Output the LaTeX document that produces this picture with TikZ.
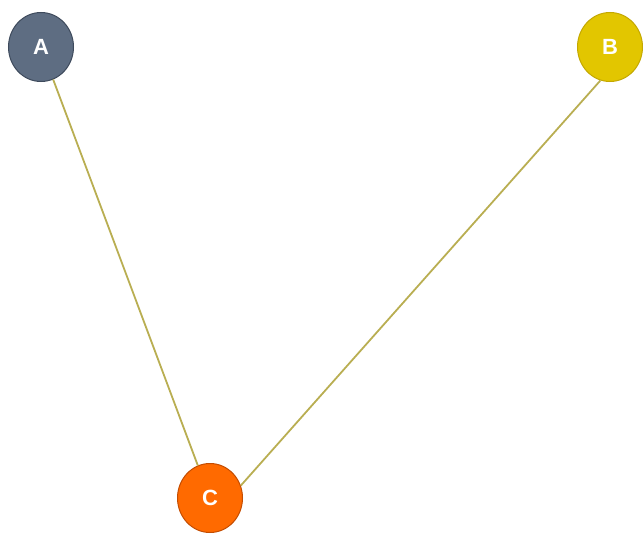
\documentclass[tikz,border=0pt]{standalone}
\usepackage{fontspec}
\setsansfont{Liberation Sans}
\usetikzlibrary{positioning,shapes.geometric}
\definecolor{nodeslate}{HTML}{5E6D82}
\definecolor{nodeslatedark}{HTML}{3E4A5C}
\definecolor{nodegold}{HTML}{E2C600}
\definecolor{nodegolddark}{HTML}{C4A800}
\definecolor{nodeorange}{HTML}{FF6A00}
\definecolor{nodeorangedark}{HTML}{C44C00}
\definecolor{edgeolive}{HTML}{B9AE52}

\begin{document}
\begin{tikzpicture}[x=1pt, y=-1pt,
    vertex/.style={ellipse, minimum width=65pt, minimum height=69pt, inner sep=0pt,
      line width=1pt, text=white, font=\sffamily\bfseries\fontsize{22}{26}\selectfont},
    link/.style={edgeolive, line width=1.8pt}]
    \useasboundingbox (0,0) rectangle (643,535);
    \node[vertex, fill=nodeslate, draw=nodeslatedark] (a) at (41,47) {A};
    \node[vertex, fill=nodegold, draw=nodegolddark] (b) at (610,47) {B};
    \node[vertex, fill=nodeorange, draw=nodeorangedark] (c) at (210,498) {C};
    \draw[link] (a) -- (c);
    \draw[link] (b.254) -- (c.22);
  \end{tikzpicture}
\end{document}
